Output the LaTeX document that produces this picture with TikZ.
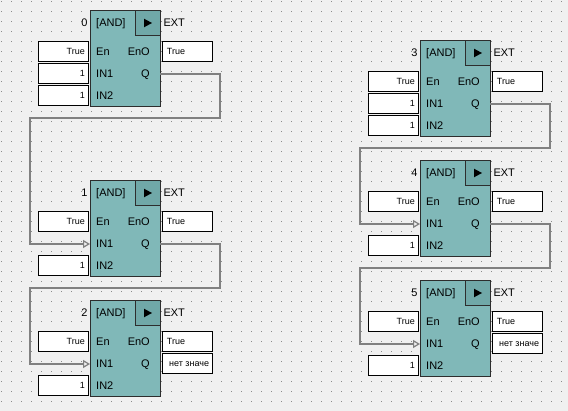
\documentclass[tikz,border=0pt]{standalone}
\usepackage{fontspec}
\setmainfont{Liberation Sans}
\usetikzlibrary{arrows.meta}
\definecolor{bg}{RGB}{240,240,240}
\definecolor{dotc}{RGB}{140,140,140}
\definecolor{tealA}{RGB}{128,184,184}
\definecolor{tealB}{RGB}{112,168,168}
\definecolor{wirec}{RGB}{128,128,128}
\definecolor{edgec}{RGB}{45,45,45}
\tikzset{
 body/.style={draw=edgec, fill=tealA, line width=1pt, minimum width=70pt, minimum height=96pt, anchor=north west, inner sep=0pt},
 hdr/.style={draw=edgec, fill=tealB, line width=1pt, minimum width=25pt, minimum height=25pt, anchor=north west, inner sep=0pt},
 lbl/.style={inner sep=0pt, font=\fontsize{11}{11}\selectfont},
 valbox/.style={draw=black, fill=white, line width=1pt, minimum width=50pt, minimum height=20pt, inner sep=0pt},
 valtxt/.style={inner sep=0pt, font=\fontsize{9}{9}\selectfont},
 wire/.style={draw=wirec, line width=2pt, line join=miter, -{Triangle[open, length=7pt, width=8pt, line width=1.2pt]}},
}
\newcommand\andblk[2]{%
 \node[body] (#1) at (0,0) {};
 \node[hdr] (#1h) at (45,0) {};
 \fill (54,8.7) -- (62,13) -- (54,17.3) -- cycle;
 \node[lbl, anchor=base west] (#1t) at (6,17) {[AND]};
 \node[lbl, anchor=base east] (#1n) at (-2.3,17) {#2};
 \node[lbl, anchor=base west] (#1x) at (73.3,17) {EXT};
 \node[lbl, anchor=base west] (#1en) at (6,45.5) {En};
 \node[lbl, anchor=base east] (#1eno) at (60,45.5) {EnO};
 \node[lbl, anchor=base west] (#1a) at (6,67.8) {IN1};
 \node[lbl, anchor=base east] (#1q) at (60,67.8) {Q};
 \node[lbl, anchor=base west] (#1b) at (6,90) {IN2};
 \coordinate (#1in) at (0,64);
 \coordinate (#1out) at (70,64);
}
\newcommand\inval[3]{%
 \node[valbox] (#1) at (-27,#2) {};
 \node[valtxt, anchor=base east] (#1t) at (-5,#2+3.3) {#3};
}
\newcommand\outval[4]{%
 \node[valbox] (#1) at (97,#2) {};
 \node[valtxt, anchor=base west] (#1t) at (#4,#2+3.3) {#3};
}
\begin{document}
\begin{tikzpicture}[x=1pt,y=-1pt]
\useasboundingbox (0,0) rectangle (568,411);
\fill[bg] (0,0) rectangle (568,411);
\foreach \i in {0,...,56}{
 \foreach \j in {0,...,40}{
  \fill[dotc] (10*\i+1,10*\j+1) rectangle ++(1,1);
 }
}
% blocks
\begin{scope}[shift={(90,10)}]
 \andblk{b0}{0}
 \inval{b0e}{41.5}{True}
 \inval{b0i}{63.5}{1}
 \inval{b0j}{85.5}{1}
 \outval{b0o}{41.5}{True}{76.7}
\end{scope}
\begin{scope}[shift={(90,180)}]
 \andblk{b1}{1}
 \inval{b1e}{41.5}{True}
 \inval{b1j}{85.5}{1}
 \outval{b1o}{41.5}{True}{76.7}
\end{scope}
\begin{scope}[shift={(90,300)}]
 \andblk{b2}{2}
 \inval{b2e}{41.5}{True}
 \inval{b2j}{85.5}{1}
 \outval{b2o}{41.5}{True}{76.7}
 \outval{b2p}{63.5}{нет значе}{79}
\end{scope}
\begin{scope}[shift={(420,40)}]
 \andblk{b3}{3}
 \inval{b3e}{41.5}{True}
 \inval{b3i}{63.5}{1}
 \inval{b3j}{85.5}{1}
 \outval{b3o}{41.5}{True}{76.7}
\end{scope}
\begin{scope}[shift={(420,160)}]
 \andblk{b4}{4}
 \inval{b4e}{41.5}{True}
 \inval{b4j}{85.5}{1}
 \outval{b4o}{41.5}{True}{76.7}
\end{scope}
\begin{scope}[shift={(420,280)}]
 \andblk{b5}{5}
 \inval{b5e}{41.5}{True}
 \inval{b5j}{85.5}{1}
 \outval{b5o}{41.5}{True}{76.7}
 \outval{b5p}{63.5}{нет значе}{79}
\end{scope}
% wires
\draw[wire] (b0out) -- ++(60,0) -- ++(0,44) -| ([xshift=-60pt]b1in) -- (b1in);
\draw[wire] (b1out) -- ++(60,0) -- ++(0,44) -| ([xshift=-60pt]b2in) -- (b2in);
\draw[wire] (b3out) -- ++(60,0) -- ++(0,44) -| ([xshift=-60pt]b4in) -- (b4in);
\draw[wire] (b4out) -- ++(60,0) -- ++(0,44) -| ([xshift=-60pt]b5in) -- (b5in);
\end{tikzpicture}
\end{document}
